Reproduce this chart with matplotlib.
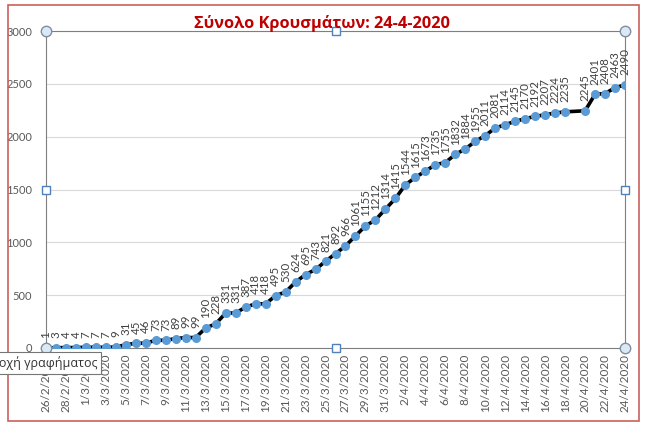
import matplotlib
matplotlib.use("Agg")
import matplotlib.pyplot as plt
from matplotlib.patches import Rectangle
import numpy as np
import pandas as pd

# daily totals, 26/2/2020 .. 24/4/2020 (19/4 missing in the sheet)
dates = pd.date_range("2020-02-26", "2020-04-24", freq="D")
date_labels = [f"{d.day}/{d.month}/{d.year}" for d in dates]
cases = [1, 3, 4, 4, 7, 7, 7, 9, 31, 45, 46, 73, 73, 89, 99, 99,
         190, 228, 331, 331, 387, 418, 418, 495, 530, 624, 695, 743, 821, 892,
         966, 1061, 1155, 1212, 1314, 1415, 1544, 1615, 1673, 1735, 1755, 1832,
         1884, 1955, 2011, 2081, 2114, 2145, 2170, 2192, 2207, 2224, 2235,
         np.nan, 2245, 2401, 2408, 2463, 2490]
title = "Σύνολο Κρουσμάτων: 24-4-2020"

plt.rcParams['font.family'] = ['Lato', 'DejaVu Sans']

y = np.array(cases, dtype=float)
x = np.arange(len(y))
ok = ~np.isnan(y)

fig = plt.figure(figsize=(6.47, 4.29), dpi=100)
ax = fig.add_axes([46/647, 1-348/429, (625-46)/647, (348-31)/429])

ax.plot(x[ok], y[ok], color='black', lw=2.6, marker='o', ms=5.5,
        mfc='#5b9bd5', mec='#5b9bd5', zorder=3)
for xi, yi in zip(x[ok], y[ok]):
    ax.annotate(f"{int(yi)}", (xi, yi), xytext=(0, 7), textcoords='offset points',
                rotation=90, ha='center', va='bottom', fontsize=8.3, color='#404040')

ax.set_xlim(0, len(y) - 1)
ax.set_ylim(0, 3000)
ax.set_yticks(range(0, 3001, 500))
ax.set_xticks(x[::2])
ax.set_xticklabels(date_labels[::2], rotation=90, fontsize=8.5, color='#595959')
ax.tick_params(axis='y', length=0, labelsize=8, labelcolor='#595959', pad=10)
ax.tick_params(axis='x', length=0, pad=4)
ax.grid(axis='y', color='#d9d9d9', lw=0.8)
ax.set_axisbelow(True)
for s in ax.spines.values():
    s.set_color('#7f7f7f')
    s.set_linewidth(0.8)

# selection handles of the plot area
for hx, hy in [(0, 0), (1, 0), (0, 1), (1, 1)]:
    ax.plot(hx, hy, 'o', transform=ax.transAxes, ms=7.5, mfc='#dbe9f5',
            mec='#7f8fa0', clip_on=False, zorder=5)
for hx, hy in [(0.5, 0), (0.5, 1), (0, 0.5), (1, 0.5)]:
    ax.plot(hx, hy, 's', transform=ax.transAxes, ms=6, mfc='white',
            mec='#4f81bd', clip_on=False, zorder=5)

fig.text(322/647, 1-24/429, title, ha='center', va='center', fontsize=11.8,
         fontweight='bold', color='#c00000', family=['Open Sans', 'DejaVu Sans'])

# chart area border
fig.patches.append(Rectangle((8/647, 1-421/429), (639-8)/647, (421-5)/429,
                             transform=fig.transFigure, fill=False,
                             ec='#c9605d', lw=1.2))

# tooltip left over in the screenshot, cut by the left edge
fig.text(97/647, 1-363/429, "Περιοχή γραφήματος", ha='right', va='center',
         fontsize=9, color='#333333', family=['Open Sans', 'DejaVu Sans'],
         zorder=10,
         bbox=dict(boxstyle='square,pad=0.3', fc='white', ec='#767676', lw=0.8))

fig.savefig("out.png", dpi=100)
